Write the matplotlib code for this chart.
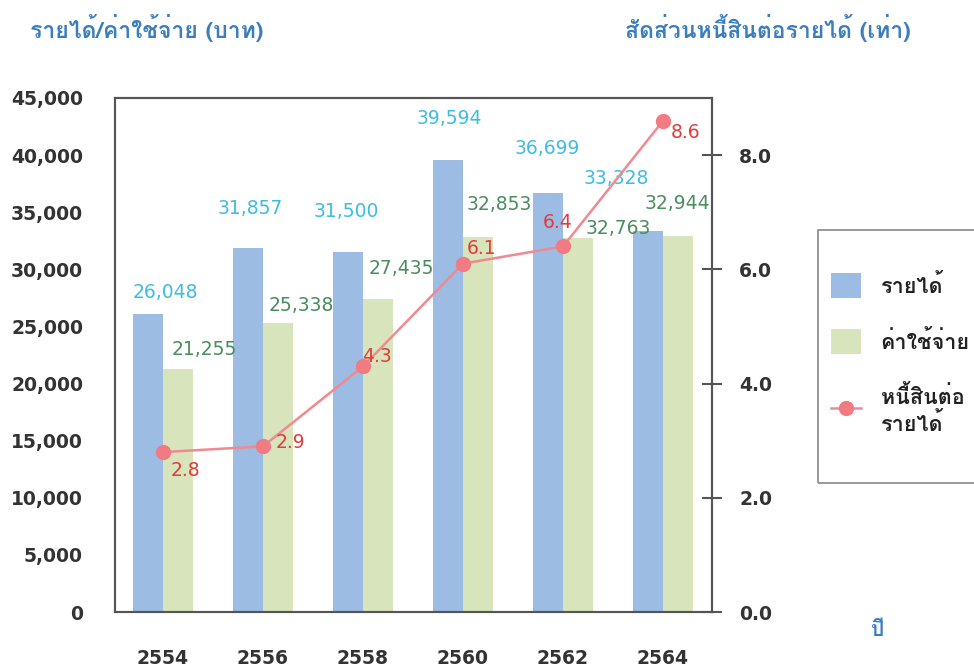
import matplotlib
matplotlib.use('Agg')
import matplotlib.pyplot as plt
from matplotlib import font_manager
from matplotlib.ft2font import FT2Font
from matplotlib.patches import Rectangle

# find a family that has Thai glyphs
thai_family = None
for f in font_manager.fontManager.ttflist:
    try:
        if ord('ร') in FT2Font(f.fname).get_charmap():
            thai_family = f.name
            break
    except Exception:
        pass
families = ([thai_family] if thai_family else []) + ['DejaVu Sans']
plt.rcParams['font.family'] = families

years = ['2554', '2556', '2558', '2560', '2562', '2564']
income = [26048, 31857, 31500, 39594, 36699, 33328]
expense = [21255, 25338, 27435, 32853, 32763, 32944]
debt_ratio = [2.8, 2.9, 4.3, 6.1, 6.4, 8.6]

# label offsets in points (dx, dy) from the category centre
income_off = [(2, 16), (-9, 28.5), (-12, 29), (-10, 29.5), (-11, 32), (-34, 38)]
expense_off = [(29.5, 14), (27.5, 12.5), (27.5, 21.5), (26, 23), (39.5, 7), (10, 23)]
ratio_off = [(16, -13), (20, 2.5), (10, 7), (13.5, 11), (-4, 17), (16, -8.5)]

x = list(range(len(years)))
w = 0.30
W, H = 974, 672

fig = plt.figure(figsize=(9.74, 6.72), dpi=100)
ax = fig.add_axes([115 / W, 60 / H, 597 / W, 514 / H])
ax2 = ax.twinx()

ax.bar([i - w / 2 for i in x], income, w, color='#9dbce3', label='รายได้')
ax.bar([i + w / 2 for i in x], expense, w, color='#d8e4bc', label='ค่าใช้จ่าย')
line, = ax2.plot(x, debt_ratio, color='#f08a90', lw=1.8, marker='o', ms=10,
                 markerfacecolor='#f27a82', markeredgecolor='#f27a82',
                 label='หนี้สินต่อ\nรายได้')

for i in x:
    ax.annotate(f'{income[i]:,}', (i, income[i]), xytext=income_off[i],
                textcoords='offset points', ha='center', va='center', fontsize=13.5,
                color='#3fbde0', family='DejaVu Sans')
    ax.annotate(f'{expense[i]:,}', (i, expense[i]), xytext=expense_off[i],
                textcoords='offset points', ha='center', va='center', fontsize=13.5,
                color='#4a8d5e', family='DejaVu Sans')
    ax2.annotate(f'{debt_ratio[i]}', (i, debt_ratio[i]), xytext=ratio_off[i],
                 textcoords='offset points', ha='center', va='center', fontsize=13.5,
                 color='#e23b3b', family='DejaVu Sans')

ax.set_xlim(-0.48, 5.49)
ax.set_ylim(0, 45000)
ax.set_yticks(range(0, 45001, 5000))
ax.set_yticklabels([f'{v:,}' for v in range(0, 45001, 5000)])
ax.set_xticks(x)
ax.set_xticklabels(years)
ax2.set_ylim(0, 9)
ax2.set_yticks([0, 2, 4, 6, 8])
ax2.set_yticklabels(['0.0', '2.0', '4.0', '6.0', '8.0'])

for a in (ax, ax2):
    for s in a.spines.values():
        s.set_color('#555555')
        s.set_linewidth(1.5)
ax.tick_params(axis='y', length=0, pad=23, labelsize=13.5, labelcolor='#333333')
ax.tick_params(axis='x', length=0, pad=27, labelsize=13.5, labelcolor='#333333')
ax2.tick_params(axis='y', direction='inout', length=15, width=1.5, color='#555555',
                pad=12, labelsize=13.5, labelcolor='#333333')
for lab in ax.get_xticklabels() + ax.get_yticklabels() + ax2.get_yticklabels():
    lab.set_family('DejaVu Sans')
    lab.set_fontweight('bold')

fig.text(30 / W, 1 - 28 / H, 'รายได้/ค่าใช้จ่าย (บาท)', color='#3b7dbd',
         fontsize=16.5, fontweight='bold', va='center')
fig.text(625 / W, 1 - 28 / H, 'สัดส่วนหนี้สินต่อรายได้ (เท่า)', color='#3b7dbd',
         fontsize=16.5, fontweight='bold', va='center')
fig.text(878 / W, 1 - 630 / H, 'ปี', color='#3b7dbd', fontsize=15,
         fontweight='bold', ha='center', va='center')

# legend box drawn by hand, running off the right edge like the source
fig.patches.append(Rectangle((818 / W, 1 - 483 / H), 200 / W, 253 / H,
                             transform=fig.transFigure, fill=False,
                             edgecolor='#888888', lw=1.2, clip_on=False))
handles = ax.get_legend_handles_labels()[0] + [line]
leg = fig.legend(handles, [h.get_label() for h in handles], loc='upper left',
                 bbox_to_anchor=(831 / W, 1 - 273 / H), frameon=False,
                 borderpad=0, borderaxespad=0, labelspacing=1.45,
                 handlelength=1.4, handleheight=1.4, handletextpad=0.9,
                 prop={'weight': 'bold', 'size': 15.5})
for t in leg.get_texts():
    t.set_color('#222222')

fig.savefig('out.png', dpi=100)
